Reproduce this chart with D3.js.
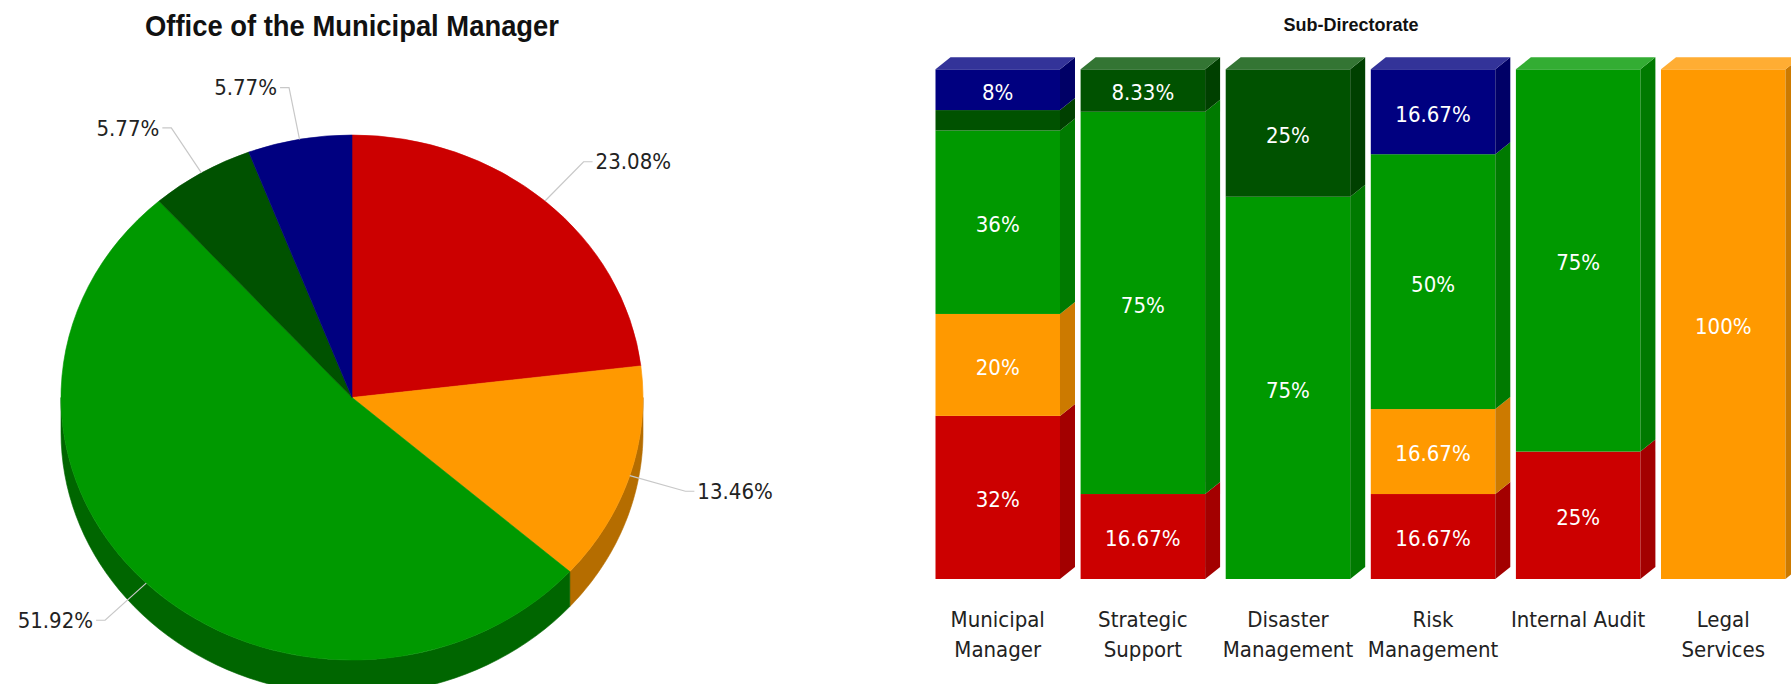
<!DOCTYPE html>
<html>
<head>
<meta charset="utf-8">
<title>Office of the Municipal Manager</title>
<script src="https://cdn.jsdelivr.net/npm/d3@7"></script>
<style>
  body { margin: 0; background: #fff; }
  text { font-family: Tahoma, "DejaVu Sans Condensed", "Liberation Sans", sans-serif; }
  .title { font-family: "Liberation Sans Narrow", "Arial Narrow", "Liberation Sans", sans-serif; font-weight: bold; fill: #111; }
  .lbl { fill: #222; font-size: 22px; }
  .val { fill: #fff; font-size: 22px; }
</style>
</head>
<body>
<div id="chart"></div>
<script>
// pie - whole office, share per status (clockwise from 12 o'clock)
var pieKeys = ["red", "orange", "green", "darkgreen", "navy"]
var piePercent = [23.08, 13.46, 51.92, 5.77, 5.77]

// stacked bars - sub-directorates, percent per status (bottom to top)
var categories = ["Municipal Manager", "Strategic Support", "Disaster Management", "Risk Management", "Internal Audit", "Legal Services"]
var tickLines = [["Municipal", "Manager"], ["Strategic", "Support"], ["Disaster", "Management"], ["Risk", "Management"], ["Internal Audit"], ["Legal", "Services"]]
var seriesKeys = ["red", "orange", "green", "darkgreen", "navy"]
var redVals = [32, 16.67, 0, 16.67, 25, 0]
var orangeVals = [20, 0, 0, 16.67, 0, 100]
var greenVals = [36, 75, 75, 50, 75, 0]
var darkGreenVals = [4, 8.33, 25, 0, 0, 0]
var navyVals = [8, 0, 0, 16.67, 0, 0]

// colours: face / side / cap
var colors = {
  red:       {face: "#cc0000", side: "#a30000", cap: "#d63333", wall: "#990000"},
  orange:    {face: "#ff9900", side: "#cc7a00", cap: "#ffad33", wall: "#b56d00"},
  green:     {face: "#009900", side: "#007a00", cap: "#33ad33", wall: "#006600"},
  darkgreen: {face: "#005200", side: "#004000", cap: "#337533", wall: "#003800"},
  navy:      {face: "#000080", side: "#000066", cap: "#333399", wall: "#000059"}
}

var W = 1791, H = 684
var svg = d3.select("#chart").append("svg")
  .attr("width", W).attr("height", H)
svg.append("rect").attr("width", W).attr("height", H).attr("fill", "#fff")

// ---------------- pie ----------------
var cx = 352, cy = 397.5, rx = 291, ry = 262.5, depth = 35

svg.append("text").attr("class", "title")
  .attr("x", cx).attr("y", 36)
  .attr("text-anchor", "middle")
  .style("font-size", "30px")
  .attr("textLength", 414).attr("lengthAdjust", "spacingAndGlyphs")
  .text("Office of the Municipal Manager")

var pie = d3.pie().sort(null).value(function(d){ return d })
var arcs = pie(piePercent)

function ept(a, k, dy) {
  return [cx + k * rx * Math.sin(a), cy - k * ry * Math.cos(a) + (dy || 0)]
}

// walls (only the front half can be seen)
var walls = svg.append("g").attr("id", "walls")
arcs.forEach(function(a, i) {
  var a0 = Math.max(a.startAngle, Math.PI / 2)
  var a1 = Math.min(a.endAngle, 3 * Math.PI / 2)
  if (a0 >= a1) return
  var top = d3.range(0, 61).map(function(j){ return ept(a0 + (a1 - a0) * j / 60, 1, 0) })
  var bot = top.slice().reverse().map(function(p){ return [p[0], p[1] + depth] })
  walls.append("path")
    .attr("d", d3.line()(top.concat(bot)) + "Z")
    .attr("fill", colors[pieKeys[i]].wall)
    .attr("stroke", colors[pieKeys[i]].wall).attr("stroke-width", 0.6)
})

// top faces
var arc = d3.arc().innerRadius(0).outerRadius(rx)
svg.append("g")
  .attr("transform", "translate(" + cx + "," + cy + ") scale(1," + (ry / rx) + ")")
  .selectAll("path")
  .data(arcs)
  .enter().append("path")
    .attr("d", arc)
    .attr("fill", function(d, i){ return colors[pieKeys[i]].face })
    .attr("stroke", function(d, i){ return colors[pieKeys[i]].face })
    .attr("stroke-width", 0.6)
    .attr("vector-effect", "non-scaling-stroke")

// leader lines + labels
var lab = svg.append("g").attr("id", "pieLabels")
arcs.forEach(function(a) {
  var m = (a.startAngle + a.endAngle) / 2
  var e = ept(m, 1), b = ept(m, 1.2)
  var side = Math.sin(m) >= 0 ? 1 : -1
  var end = [b[0] + side * 9, b[1]]
  lab.append("path")
    .attr("d", d3.line()([e, b, end]))
    .attr("fill", "none").attr("stroke", "#c8c8c8").attr("stroke-width", 1.2)
  lab.append("text").attr("class", "lbl")
    .attr("x", end[0] + side * 3).attr("y", end[1])
    .attr("dy", "0.35em")
    .attr("text-anchor", side > 0 ? "start" : "end")
    .text(a.data.toFixed(2) + "%")
})

// ---------------- stacked bars ----------------
var dx = 15, dyc = 12
svg.append("text").attr("class", "title")
  .attr("x", 1351).attr("y", 31)
  .attr("text-anchor", "middle")
  .style("font-size", "18px")
  .attr("textLength", 135).attr("lengthAdjust", "spacingAndGlyphs")
  .text("Sub-Directorate")

var table = categories.map(function(c, i) {
  return {cat: c, red: redVals[i], orange: orangeVals[i], green: greenVals[i], darkgreen: darkGreenVals[i], navy: navyVals[i]}
})
var layers = d3.stack().keys(seriesKeys)(table)

var x = d3.scaleBand().domain(categories).range([935.5, 1785.5]).paddingInner(0.142).paddingOuter(0)
var y = d3.scaleLinear().domain([0, 100]).range([579, 69.3])

// which series sits on top of each bar
var topKey = table.map(function(r) {
  var k = null
  seriesKeys.forEach(function(s){ if (r[s] > 0) k = s })
  return k
})

var bars = svg.append("g").attr("id", "bars")
layers.forEach(function(layer) {
  var key = layer.key
  layer.forEach(function(d, i) {
    var v = d[1] - d[0]
    if (v <= 0) return
    var x0 = x(categories[i]), x1 = x0 + x.bandwidth()
    var yt = y(d[1]), yb = y(d[0])
    bars.append("rect")
      .attr("x", x0).attr("y", yt)
      .attr("width", x.bandwidth()).attr("height", yb - yt)
      .attr("fill", colors[key].face)
    bars.append("path")
      .attr("d", d3.line()([[x1, yb], [x1, yt], [x1 + dx, yt - dyc], [x1 + dx, yb - dyc]]) + "Z")
      .attr("fill", colors[key].side)
    if (topKey[i] === key) {
      bars.append("path")
        .attr("d", d3.line()([[x0, yt], [x0 + dx, yt - dyc], [x1 + dx, yt - dyc], [x1, yt]]) + "Z")
        .attr("fill", colors[key].cap)
    }
    if (v >= 5) {
      bars.append("text").attr("class", "val")
        .attr("x", (x0 + x1) / 2).attr("y", (yt + yb) / 2)
        .attr("dy", "0.45em")
        .attr("text-anchor", "middle")
        .text((+v.toFixed(2)) + "%")
    }
  })
})

// category labels
var ticks = svg.append("g").attr("id", "ticks")
categories.forEach(function(c, i) {
  var t = ticks.append("text").attr("class", "lbl")
    .attr("text-anchor", "middle")
    .attr("x", x(c) + x.bandwidth() / 2)
    .attr("y", 627)
  tickLines[i].forEach(function(s, j) {
    t.append("tspan")
      .attr("x", x(c) + x.bandwidth() / 2)
      .attr("dy", j === 0 ? 0 : 30)
      .text(s)
  })
})
</script>
</body>
</html>
